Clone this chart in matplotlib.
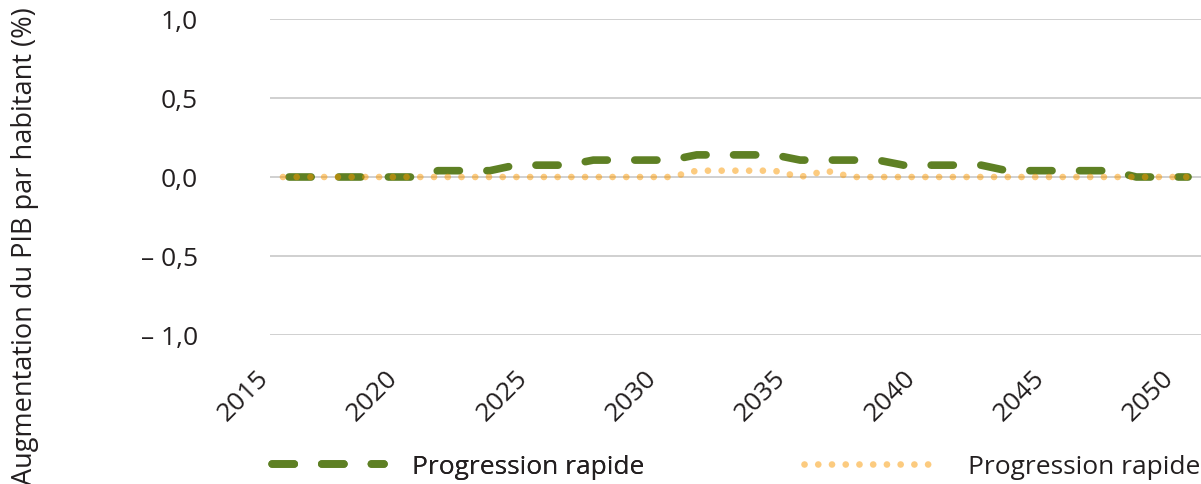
import matplotlib.pyplot as plt
from matplotlib.transforms import ScaledTranslation

plt.rcParams['font.family'] = ['Open Sans', 'DejaVu Sans']

years = [2015, 2016, 2017, 2018, 2019, 2020, 2021, 2022, 2023, 2024,
         2025, 2026, 2027, 2028, 2029, 2030, 2031, 2032, 2033, 2034,
         2035, 2036, 2037, 2038, 2039, 2040, 2041, 2042, 2043, 2044,
         2045, 2046, 2047, 2048, 2049, 2050]

# two "Progression rapide" scenarios
rapide_vert = [0.0, 0.0, 0.0, 0.0, 0.0, 0.0, 0.04, 0.04, 0.04, 0.075,
               0.075, 0.075, 0.107, 0.107, 0.107, 0.107, 0.14, 0.14, 0.14, 0.14,
               0.107, 0.107, 0.107, 0.107, 0.075, 0.075, 0.075, 0.075, 0.04, 0.04,
               0.04, 0.04, 0.04, 0.0, 0.0, 0.0]
rapide_orange = [0.0, 0.0, 0.0, 0.0, 0.0, 0.0, 0.0, 0.0, 0.0, 0.0,
                 0.0, 0.0, 0.0, 0.0, 0.0, 0.0, 0.04, 0.04, 0.04, 0.04,
                 0.0, 0.04, 0.0, 0.0, 0.0, 0.0, 0.0, 0.0, 0.0, 0.0,
                 0.0, 0.0, 0.0, 0.0, 0.0, 0.0]
labels = ['Progression rapide', 'Progression rapide']

yticks = [-1.0, -0.5, 0.0, 0.5, 1.0]
ytick_labels = ['\u2013 1,0', '\u2013 0,5', '0,0', '0,5', '1,0']

green = '#5E8024'
orange = '#FA9800'
txt = '#231F20'

fig = plt.figure(figsize=(12.01, 4.85), dpi=100)
ax = fig.add_axes([270 / 1201, 149 / 485, 931 / 1201, 316 / 485])

x = list(range(len(years)))
line_g, = ax.plot(x, rapide_vert, color=green, lw=5.5,
                  linestyle=(5.7, (2.9, 3.6)),
                  dash_capstyle='round', solid_capstyle='round', zorder=3)
line_o, = ax.plot(x, rapide_orange, color=orange, alpha=0.5, lw=4.8,
                  dashes=(0.01, 2.05), dash_capstyle='round', zorder=4)

ax.set_xlim(-0.5, len(years) - 0.5)
ax.set_ylim(-1.0, 1.0)
ax.set_yticks(yticks)
ax.set_yticklabels(ytick_labels)
ax.grid(axis='y', color='#c8c8c8', lw=1.2)
ax.set_axisbelow(True)
for s in ax.spines.values():
    s.set_visible(False)

tick_pos = [i for i, y in enumerate(years) if y % 5 == 0]
ax.set_xticks(tick_pos)
ax.set_xticklabels([str(years[i]) for i in tick_pos], rotation=45,
                   ha='right', va='center', rotation_mode='anchor')
ax.tick_params(axis='x', length=0, pad=28, labelsize=19, colors=txt)
ax.tick_params(axis='y', length=0, pad=52, labelsize=19, colors=txt)
shift = ScaledTranslation(-18 / 100, 0, fig.dpi_scale_trans)
for lab in ax.get_xticklabels():
    lab.set_transform(lab.get_transform() + shift)

fig.text(25 / 1201, 1 - 246 / 485, 'Augmentation du PIB par habitant (%)',
         rotation=90, ha='center', va='center', fontsize=19.5, color=txt)

leg1 = fig.legend([line_g], [labels[0]], loc='center left',
                  bbox_to_anchor=(266 / 1201, 1 - 468 / 485), frameon=False,
                  fontsize=19, handlelength=4.47, handletextpad=1.05,
                  labelcolor=txt, borderaxespad=0, borderpad=0)
fig.add_artist(leg1)
fig.legend([line_o], [labels[1]], loc='center left',
           bbox_to_anchor=(804 / 1201, 1 - 468 / 485), frameon=False,
           fontsize=19, handlelength=5.2, handletextpad=1.0,
           labelcolor=txt, borderaxespad=0, borderpad=0)

fig.savefig('out.png', dpi=100)
